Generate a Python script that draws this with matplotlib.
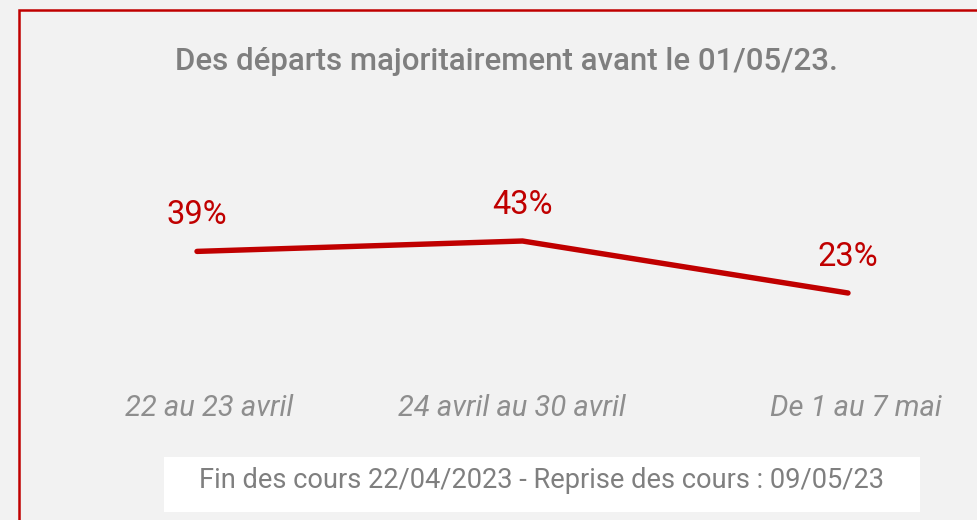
import matplotlib
matplotlib.use("Agg")
import matplotlib.pyplot as plt
from matplotlib.patches import Rectangle

# data
periods = ["22 au 23 avril", "24 avril au 30 avril", "De 1 au 7 mai"]
shares = [39, 43, 23]
title = "Des départs majoritairement avant le 01/05/23."
note = "Fin des cours 22/04/2023 - Reprise des cours : 09/05/23"

RED = "#c00000"
GREY = "#7f7f7f"
W, H = 978, 520

plt.rcParams["font.family"] = ["Roboto", "DejaVu Sans"]

fig = plt.figure(figsize=(W / 100, H / 100), dpi=100, facecolor="#f2f2f2")

# axes placed so that the three categories land where they sit in the reference
ax = fig.add_axes([197 / W, 227 / H, 651 / W, 52 / H])
ax.set_xlim(0, 2)
ax.set_ylim(23, 43)
ax.axis("off")

xs = list(range(len(periods)))
ax.plot(xs, shares, color=RED, lw=3.9, solid_capstyle="round",
        solid_joinstyle="round", clip_on=False)

for x, v in zip(xs, shares):
    ax.annotate(f"{v}%", (x, v), xytext=(0, 26), textcoords="offset points",
                ha="center", va="center", color=RED, fontsize=23.5,
                fontweight="normal", annotation_clip=False)

# category labels under the line
label_dx = [9, -8, 6]
for x, lab, dx in zip(xs, periods, label_dx):
    ax.annotate(lab, (x, 112 / H), xycoords=("data", "figure fraction"),
                xytext=(dx, 0), textcoords="offset points",
                ha="center", va="center", color="#8e8e8e", fontsize=21,
                fontstyle="italic", fontweight="normal", annotation_clip=False)

fig.text(506 / W, 1 - 61 / H, title, ha="center", va="center",
         color=GREY, fontsize=22.5, fontweight="medium")

# white note box at the bottom
fig.patches.append(Rectangle((164 / W, 8 / H), 756 / W, 55 / H,
                             transform=fig.transFigure, facecolor="white",
                             edgecolor="none", zorder=1))
fig.text(542 / W, 1 - 481 / H, note, ha="center", va="center",
         color=GREY, fontsize=19.6, zorder=2)

# red frame, only the left and top sides are visible
fig.patches.append(Rectangle((19.5 / W, -0.1), 1.2, 1.1 - 10.5 / H,
                             transform=fig.transFigure, facecolor="none",
                             edgecolor=RED, lw=1.8, zorder=3))

fig.savefig("out.png", dpi=100, facecolor=fig.get_facecolor())
